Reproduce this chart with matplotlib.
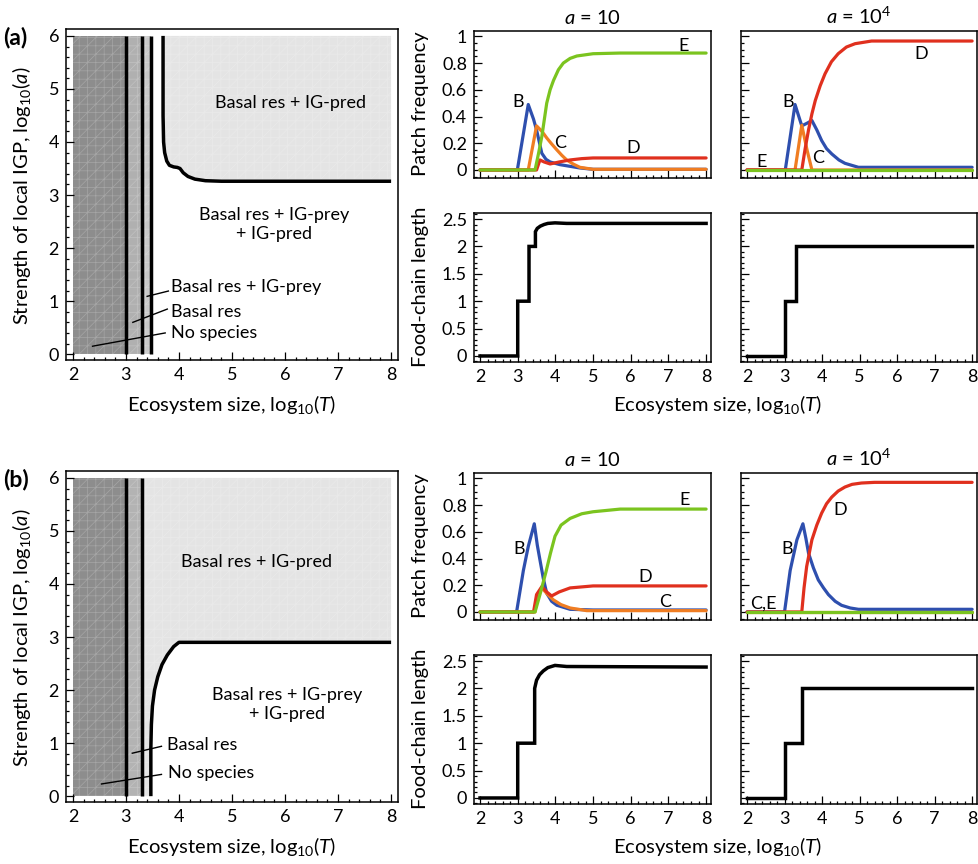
import numpy as np
import matplotlib
matplotlib.use("Agg")
import matplotlib.pyplot as plt
from matplotlib.ticker import MultipleLocator, FuncFormatter

plt.rcParams['font.family'] = ['Lato', 'DejaVu Sans']
plt.rcParams['mathtext.fontset'] = 'custom'
plt.rcParams['mathtext.rm'] = 'Lato'
plt.rcParams['mathtext.it'] = 'Lato:italic'
plt.rcParams['hatch.linewidth'] = 0.5

# ---------------- data ----------------
# colours of the four patch types
col_B = '#2e4fae'
col_C = '#f07d22'
col_D = '#e0301e'
col_E = '#7bc41f'

# (a) phase diagram boundaries
a_vlines = [3.0, 3.3, 3.47]
a_curve_x = [3.70, 3.70, 3.71, 3.73, 3.77, 3.82, 3.90, 3.97, 4.02, 4.08, 4.17, 4.30, 4.50, 4.80, 8.0]
a_curve_y = [6.0, 4.5, 4.0, 3.80, 3.64, 3.56, 3.53, 3.52, 3.50, 3.42, 3.35, 3.30, 3.27, 3.26, 3.26]

# (b) phase diagram boundaries
b_vlines = [3.0, 3.3]
b_curve_x = [3.47, 3.47, 3.48, 3.50, 3.54, 3.60, 3.68, 3.78, 3.90, 4.00, 8.0]
b_curve_y = [0.0, 0.9, 1.35, 1.70, 2.00, 2.25, 2.48, 2.66, 2.82, 2.90, 2.90]

# (a) patch frequencies, a = 10
pa1_B_x = [2, 2.99, 3.28, 3.42, 3.50, 3.58, 3.64, 3.75, 3.86, 4.12, 4.65, 5.0, 8]
pa1_B_y = [0, 0, 0.49, 0.38, 0.30, 0.20, 0.125, 0.08, 0.06, 0.04, 0.015, 0.005, 0.005]
pa1_C_x = [2, 3.28, 3.50, 3.64, 3.77, 3.90, 4.04, 4.17, 4.30, 4.47, 4.65, 5.0, 8]
pa1_C_y = [0, 0, 0.33, 0.29, 0.24, 0.195, 0.15, 0.11, 0.075, 0.045, 0.02, 0.005, 0.005]
pa1_D_x = [2, 3.50, 3.59, 3.70, 3.86, 4.10, 4.39, 4.70, 5.0, 8]
pa1_D_y = [0, 0, 0.075, 0.06, 0.045, 0.06, 0.075, 0.085, 0.09, 0.09]
pa1_E_x = [2, 3.46, 3.55, 3.64, 3.77, 3.86, 3.95, 4.08, 4.21, 4.39, 4.57, 5.0, 5.72, 8]
pa1_E_y = [0, 0, 0.12, 0.25, 0.50, 0.60, 0.67, 0.75, 0.80, 0.835, 0.853, 0.87, 0.875, 0.875]

# (a) patch frequencies, a = 10^4
pa2_B_x = [2, 3.02, 3.28, 3.46, 3.60, 3.73, 3.86, 3.99, 4.12, 4.26, 4.45, 4.61, 4.97, 8]
pa2_B_y = [0, 0, 0.49, 0.33, 0.35, 0.37, 0.30, 0.22, 0.16, 0.12, 0.075, 0.05, 0.02, 0.02]
pa2_C_x = [2, 3.28, 3.46, 3.60, 3.73, 8]
pa2_C_y = [0, 0, 0.335, 0.15, 0, 0]
pa2_D_x = [2, 3.46, 3.55, 3.64, 3.73, 3.82, 3.95, 4.08, 4.25, 4.43, 4.65, 4.88, 5.32, 8]
pa2_D_y = [0, 0, 0.16, 0.30, 0.42, 0.52, 0.63, 0.72, 0.81, 0.87, 0.92, 0.945, 0.965, 0.965]
pa2_E_x = [2, 8]
pa2_E_y = [0, 0]

# (b) patch frequencies, a = 10
pb1_B_x = [2, 2.97, 3.15, 3.28, 3.44, 3.52, 3.59, 3.68, 3.77, 3.90, 4.04, 4.39, 5.0, 8]
pb1_B_y = [0, 0, 0.31, 0.49, 0.66, 0.50, 0.39, 0.25, 0.14, 0.08, 0.05, 0.02, 0.015, 0.015]
pb1_C_x = [2, 3.46, 3.52, 3.64, 3.80, 3.95, 4.15, 4.39, 4.83, 8]
pb1_C_y = [0, 0, 0.13, 0.18, 0.13, 0.09, 0.055, 0.03, 0.01, 0.01]
pb1_D_x = [2, 3.42, 3.50, 3.64, 3.77, 3.90, 4.10, 4.39, 5.0, 8]
pb1_D_y = [0, 0, 0.13, 0.19, 0.15, 0.12, 0.15, 0.18, 0.195, 0.195]
pb1_E_x = [2, 3.46, 3.60, 3.75, 3.87, 3.99, 4.15, 4.39, 4.70, 5.0, 5.72, 8]
pb1_E_y = [0, 0, 0.14, 0.30, 0.44, 0.567, 0.65, 0.70, 0.735, 0.75, 0.77, 0.77]

# (b) patch frequencies, a = 10^4
pb2_B_x = [2, 3.0, 3.15, 3.33, 3.49, 3.57, 3.64, 3.77, 3.90, 4.04, 4.17, 4.35, 4.52, 4.75, 4.97, 8]
pb2_B_y = [0, 0, 0.31, 0.54, 0.66, 0.55, 0.44, 0.33, 0.24, 0.18, 0.13, 0.08, 0.05, 0.03, 0.02, 0.02]
pb2_C_x = [2, 8]
pb2_C_y = [0, 0]
pb2_D_x = [2, 3.46, 3.52, 3.59, 3.73, 3.86, 3.99, 4.12, 4.26, 4.43, 4.61, 4.80, 5.05, 5.4, 8]
pb2_D_y = [0, 0, 0.18, 0.34, 0.54, 0.65, 0.74, 0.81, 0.86, 0.905, 0.935, 0.955, 0.965, 0.97, 0.97]
pb2_E_x = [2, 8]
pb2_E_y = [0, 0]

# food-chain length
fa1_x = [2, 3, 3, 3.3, 3.3, 3.47, 3.47, 3.52, 3.60, 3.70, 3.80, 3.99, 4.3, 8]
fa1_y = [0, 0, 1, 1, 2, 2, 2.27, 2.33, 2.37, 2.40, 2.42, 2.43, 2.42, 2.42]
fa2_x = [2, 3, 3, 3.3, 3.3, 8]
fa2_y = [0, 0, 1, 1, 2, 2]
fb1_x = [2, 3, 3, 3.45, 3.45, 3.50, 3.58, 3.68, 3.80, 3.99, 4.3, 8]
fb1_y = [0, 0, 1, 1, 2, 2.15, 2.25, 2.32, 2.38, 2.42, 2.40, 2.39]
fb2_x = [2, 3, 3, 3.47, 3.47, 8]
fb2_y = [0, 0, 1, 1, 2, 2]

W, H = 979, 864
fig = plt.figure(figsize=(W / 100, H / 100), dpi=100)

LAB = 14.5   # axis labels
ANN = 13     # annotations in the phase diagrams
TCK = 13     # tick labels


def box(x0, y0, x1, y1):
    # pixel box (top-left origin) -> figure fraction rect
    return [x0 / W, 1 - y1 / H, (x1 - x0) / W, (y1 - y0) / H]


def fp(x, y):
    return x / W, 1 - y / H


def style(ax, xmin, ymaj, ymin):
    for s in ax.spines.values():
        s.set_linewidth(1.1)
    ax.xaxis.set_major_locator(MultipleLocator(1))
    ax.xaxis.set_minor_locator(MultipleLocator(xmin))
    ax.yaxis.set_major_locator(MultipleLocator(ymaj))
    ax.yaxis.set_minor_locator(MultipleLocator(ymin))
    ax.tick_params(which='both', direction='in', top=False, right=False,
                   labelsize=TCK, width=0.9, pad=5)
    ax.tick_params(which='major', length=5.5)
    ax.tick_params(which='minor', length=2.5)
    ax.yaxis.set_major_formatter(FuncFormatter(lambda v, p: f'{v:g}'))


mesh = dict(lw=0, edgecolor=(1, 1, 1, 0.22), hatch='++//')


def phase(ax, vlines, cx, cy, part):
    ax.set_xlim(1.87, 8.13)
    ax.set_ylim(-0.11, 6.13)
    ax.fill([2, 3, 3, 2], [0, 0, 6, 6], facecolor='#8d8d8d', **mesh)
    if part == 'a':
        ax.fill([3, 3.3, 3.3, 3], [0, 0, 6, 6], facecolor='#b0b0b0', **mesh)
        ax.fill([3.3, 3.47, 3.47, 3.3], [0, 0, 6, 6], facecolor='#c8c8c8', **mesh)
        ax.fill(list(cx) + [8, cx[0]], list(cy) + [6, 6], facecolor='#e4e4e4', **mesh)
    else:
        ax.fill([3, 3.3, 3.3, 3], [0, 0, 6, 6], facecolor='#b3b3b3', **mesh)
        ax.fill([3.3] + list(cx) + [8, 3.3], [0] + list(cy) + [6, 6],
                facecolor='#e4e4e4', **mesh)
    for v in vlines:
        ax.plot([v, v], [0, 6], color='black', lw=2.5, solid_capstyle='butt')
    ax.plot(cx, cy, color='black', lw=2.5, solid_capstyle='butt')
    style(ax, 0.2, 1, 0.2)


def patches(ax, series, labels, title, show_y):
    for (x, y, c) in series:
        ax.plot(x, y, color=c, lw=2.3, solid_capstyle='round')
    for (tx, ty, t) in labels:
        ax.text(tx, ty, t, fontsize=ANN, ha='center', va='center')
    ax.set_xlim(1.84, 8.13)
    ax.set_ylim(-0.06, 1.04)
    style(ax, 0.2, 0.2, 0.05)
    ax.set_xticklabels([])
    if not show_y:
        ax.tick_params(labelleft=False)
    ax.set_title(title, fontsize=LAB, pad=5)


def chain(ax, x, y, show_y):
    ax.plot(x, y, color='black', lw=2.5, solid_joinstyle='miter')
    ax.set_xlim(1.84, 8.13)
    ax.set_ylim(-0.11, 2.61)
    style(ax, 0.2, 0.5, 0.1)
    if not show_y:
        ax.tick_params(labelleft=False)


for part, dy in (('a', 0), ('b', 442)):
    axL = fig.add_axes(box(66, 29 + dy, 398, 360 + dy))
    if part == 'a':
        phase(axL, a_vlines, a_curve_x, a_curve_y, 'a')
        axL.text(6.1, 4.74, 'Basal res + IG-pred', fontsize=ANN, ha='center', va='center')
        axL.text(5.8, 2.45, 'Basal res + IG-prey\n+ IG-pred', fontsize=ANN,
                 ha='center', va='center', linespacing=1.2)
        axL.text(3.85, 1.27, 'Basal res + IG-prey', fontsize=ANN, va='center')
        axL.text(3.85, 0.80, 'Basal res', fontsize=ANN, va='center')
        axL.text(3.85, 0.40, 'No species', fontsize=ANN, va='center')
        axL.plot([3.40, 3.80], [1.09, 1.19], color='black', lw=1)
        axL.plot([3.13, 3.78], [0.60, 0.85], color='black', lw=1)
        axL.plot([2.37, 3.74], [0.15, 0.40], color='black', lw=1)
    else:
        phase(axL, b_vlines, b_curve_x, b_curve_y, 'b')
        axL.text(5.46, 4.42, 'Basal res + IG-pred', fontsize=ANN, ha='center', va='center')
        axL.text(6.04, 1.73, 'Basal res + IG-prey\n+ IG-pred', fontsize=ANN,
                 ha='center', va='center', linespacing=1.2)
        axL.text(3.77, 0.96, 'Basal res', fontsize=ANN, va='center')
        axL.text(3.80, 0.43, 'No species', fontsize=ANN, va='center')
        axL.plot([3.12, 3.67], [0.81, 0.94], color='black', lw=1)
        axL.plot([2.54, 3.67], [0.23, 0.41], color='black', lw=1)

    fig.text(*fp(3, 38 + dy), f'({part})', fontsize=16.5, fontweight='bold', va='center')
    fig.text(*fp(22, 196 + dy), r'Strength of local IGP, log$_{10}$($a$)', fontsize=LAB,
             rotation=90, ha='center', va='center')
    fig.text(*fp(232, 404 + dy), r'Ecosystem size, log$_{10}$($T$)', fontsize=LAB,
             ha='center', va='center')
    fig.text(*fp(718, 404 + dy), r'Ecosystem size, log$_{10}$($T$)', fontsize=LAB,
             ha='center', va='center')
    fig.text(*fp(421, 104 + dy), 'Patch frequency', fontsize=LAB,
             rotation=90, ha='center', va='center')
    fig.text(*fp(421, 287 + dy), 'Food-chain length', fontsize=LAB,
             rotation=90, ha='center', va='center')

    ax1 = fig.add_axes(box(474, 31 + dy, 711, 178 + dy))
    ax2 = fig.add_axes(box(741, 31 + dy, 977, 178 + dy))
    ax3 = fig.add_axes(box(474, 213 + dy, 711, 362 + dy))
    ax4 = fig.add_axes(box(741, 213 + dy, 977, 362 + dy))

    if part == 'a':
        patches(ax1, [(pa1_B_x, pa1_B_y, col_B), (pa1_C_x, pa1_C_y, col_C),
                      (pa1_D_x, pa1_D_y, col_D), (pa1_E_x, pa1_E_y, col_E)],
                [(3.0, 0.51, 'B'), (4.12, 0.20, 'C'), (6.07, 0.165, 'D'), (7.4, 0.93, 'E')],
                r'$a$ = 10', True)
        patches(ax2, [(pa2_B_x, pa2_B_y, col_B), (pa2_C_x, pa2_C_y, col_C),
                      (pa2_D_x, pa2_D_y, col_D), (pa2_E_x, pa2_E_y, col_E)],
                [(3.1, 0.51, 'B'), (3.9, 0.09, 'C'), (6.65, 0.87, 'D'), (2.4, 0.06, 'E')],
                r'$a$ = 10$^4$', False)
        chain(ax3, fa1_x, fa1_y, True)
        chain(ax4, fa2_x, fa2_y, False)
    else:
        patches(ax1, [(pb1_B_x, pb1_B_y, col_B), (pb1_C_x, pb1_C_y, col_C),
                      (pb1_D_x, pb1_D_y, col_D), (pb1_E_x, pb1_E_y, col_E)],
                [(3.04, 0.47, 'B'), (6.91, 0.077, 'C'), (6.38, 0.26, 'D'), (7.44, 0.84, 'E')],
                r'$a$ = 10', True)
        patches(ax2, [(pb2_B_x, pb2_B_y, col_B), (pb2_C_x, pb2_C_y, col_C),
                      (pb2_D_x, pb2_D_y, col_D), (pb2_E_x, pb2_E_y, col_E)],
                [(3.06, 0.475, 'B'), (4.48, 0.76, 'D'), (2.44, 0.065, 'C,E')],
                r'$a$ = 10$^4$', False)
        chain(ax3, fb1_x, fb1_y, True)
        chain(ax4, fb2_x, fb2_y, False)

fig.savefig('out.png', dpi=100)
